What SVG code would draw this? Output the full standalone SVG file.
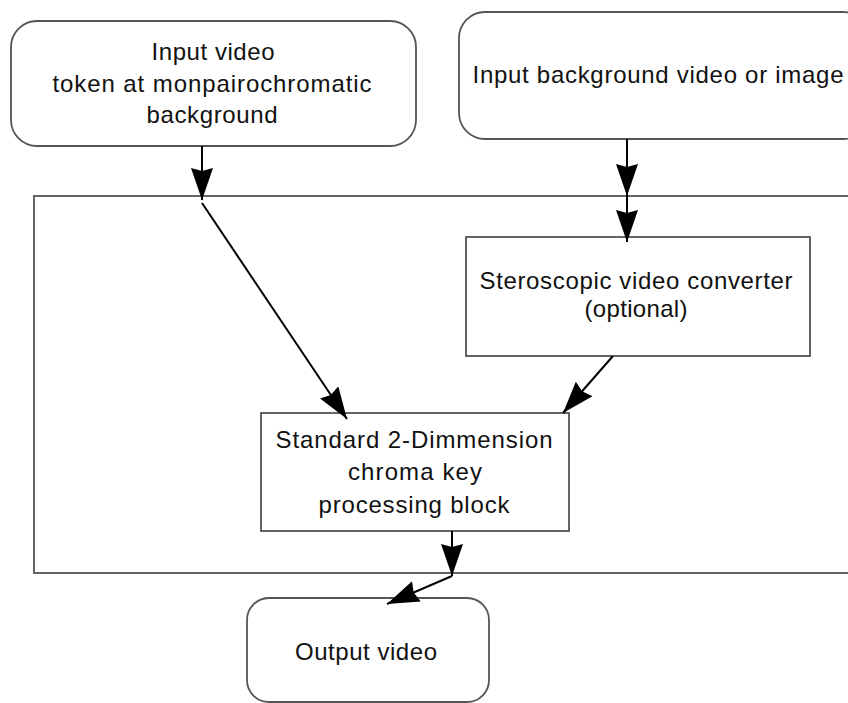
<svg xmlns="http://www.w3.org/2000/svg" width="848" height="703" viewBox="0 0 848 703">
<style>
.box{fill:#fff;stroke:#555;stroke-width:1.8}
.frame{fill:none;stroke:#666;stroke-width:2}
.t{font-family:"Liberation Sans",Arial,sans-serif;font-size:24px;fill:#111;text-anchor:middle}
.c{fill:none;stroke:#000;stroke-width:2}
</style>
<defs>
<marker id="ah" markerUnits="userSpaceOnUse" markerWidth="34" markerHeight="24" refX="32" refY="11" orient="auto">
<path d="M0,0 L32,11 L0,22 L3,11 Z" fill="#000"/>
</marker>
</defs>
<rect width="848" height="703" fill="#fff"/>
<g id="container"><rect class="frame" x="34" y="196" width="830" height="377"/></g>
<g id="input-video">
<rect class="box" x="11" y="21" width="405" height="125" rx="26"/>
<text class="t" x="213" y="60" textLength="123" lengthAdjust="spacing">Input video</text>
<text class="t" x="212" y="92" textLength="319" lengthAdjust="spacing">token at monpairochromatic</text>
<text class="t" x="212" y="123" textLength="131" lengthAdjust="spacing">background</text>
</g>
<g id="input-background">
<rect class="box" x="459" y="12" width="410" height="127" rx="26"/>
<text class="t" x="658" y="83" textLength="371" lengthAdjust="spacing">Input background video or image</text>
</g>
<g id="stereo-converter">
<rect class="box" x="466" y="237" width="344" height="119"/>
<text class="t" x="636" y="289" textLength="313" lengthAdjust="spacing">Steroscopic video converter</text>
<text class="t" x="636" y="317" textLength="103" lengthAdjust="spacing">(optional)</text>
</g>
<g id="chroma-key">
<rect class="box" x="261" y="413" width="308" height="118"/>
<text class="t" x="414" y="448" textLength="277" lengthAdjust="spacing">Standard 2-Dimmension</text>
<text class="t" x="415" y="480" textLength="134" lengthAdjust="spacing">chroma key</text>
<text class="t" x="414" y="513" textLength="191" lengthAdjust="spacing">processing block</text>
</g>
<g id="output-video">
<rect class="box" x="247" y="598" width="242" height="104" rx="22"/>
<text class="t" x="366" y="660" textLength="142" lengthAdjust="spacing">Output video</text>
</g>
<g id="connectors">
<line class="c" x1="202" y1="146" x2="202" y2="200" marker-end="url(#ah)"/>
<line class="c" x1="202" y1="203" x2="347" y2="419" marker-end="url(#ah)"/>
<line class="c" x1="627" y1="139" x2="627" y2="196" marker-end="url(#ah)"/>
<line class="c" x1="627" y1="196" x2="627" y2="242" marker-end="url(#ah)"/>
<line class="c" x1="613" y1="356" x2="563" y2="413" marker-end="url(#ah)"/>
<line class="c" x1="452" y1="531" x2="452" y2="576" marker-end="url(#ah)"/>
<line class="c" x1="452" y1="576" x2="387" y2="604" marker-end="url(#ah)"/>
</g>
</svg>
